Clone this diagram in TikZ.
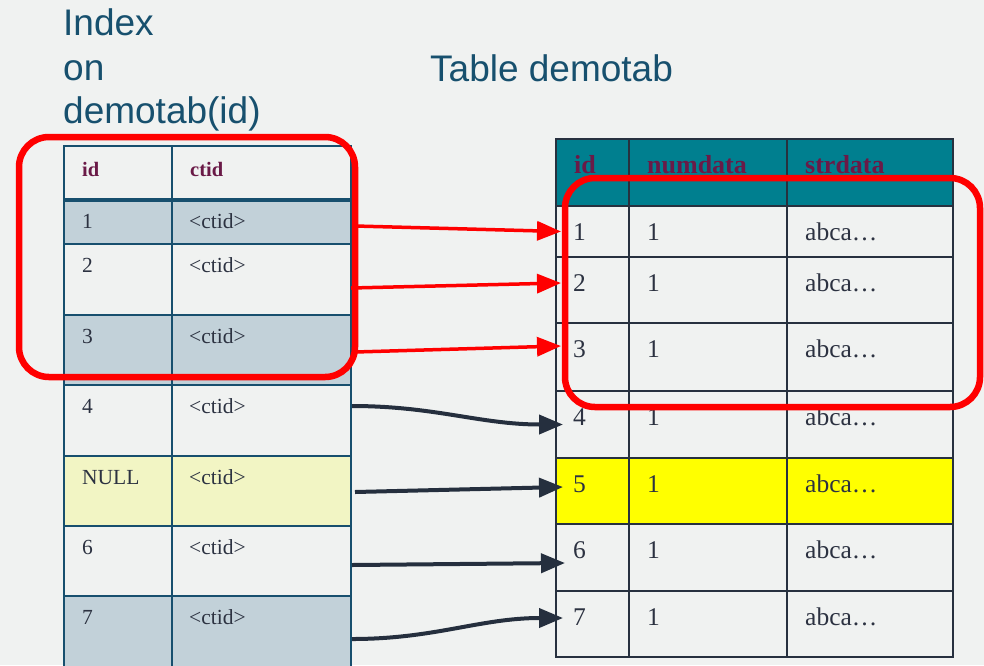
\documentclass[tikz,border=0pt]{standalone}
\usepackage{fontspec}
\setmainfont{Liberation Serif}
\newfontfamily\titlefont{Liberation Sans}
\usetikzlibrary{arrows.meta}

\definecolor{bgcol}{HTML}{F0F2F1}
\definecolor{titleblue}{HTML}{17506E}
\definecolor{leftline}{HTML}{174F6E}
\definecolor{rightline}{HTML}{27313F}
\definecolor{rowgray}{HTML}{C2D1D9}
\definecolor{rowpale}{HTML}{F2F5C4}
\definecolor{rowyellow}{HTML}{FFFF00}
\definecolor{headteal}{HTML}{007F8F}
\definecolor{hdrtext}{HTML}{6A1A47}
\definecolor{celltext}{HTML}{2C3241}
\definecolor{markred}{HTML}{FF0000}
\definecolor{linkdark}{HTML}{252F3E}

\begin{document}
\begin{tikzpicture}[x=1pt,y=-1pt,
  titletext/.style={font=\titlefont\fontsize{37}{44}\selectfont, text=titleblue, inner sep=0pt, anchor=base west},
  lrow/.style={draw=leftline, line width=2.5pt, inner sep=0pt, outer sep=0pt, minimum width=287pt, anchor=north west},
  rrow/.style={draw=rightline, line width=2.5pt, inner sep=0pt, outer sep=0pt, minimum width=397pt, anchor=north west},
  lhead/.style={font=\fontsize{20.5}{24}\selectfont\bfseries, text=hdrtext, inner sep=0pt, anchor=base west},
  lcell/.style={font=\fontsize{21.5}{24}\selectfont, text=celltext, inner sep=0pt, anchor=base west},
  rhead/.style={font=\fontsize{26}{30}\selectfont\bfseries, text=hdrtext, inner sep=0pt, anchor=base west},
  rcell/.style={font=\fontsize{25.5}{28}\selectfont, text=celltext, inner sep=0pt, anchor=base west},
  redframe/.style={draw=markred, line width=6.5pt, rounded corners=30pt, inner sep=0pt, outer sep=0pt, anchor=north west},
  redlink/.style={draw=markred, line width=3.5pt, -{Triangle[length=24pt,width=19pt]}},
  darklink/.style={draw=linkdark, line width=4pt, -{Triangle[length=24pt,width=19pt]}}
]
\useasboundingbox (0,0) rectangle (984,665);
\fill[bgcol] (0,0) rectangle (984,665);
\clip (0,0) rectangle (984,665);

% titles
\node[titletext] (t1) at (63,35) {Index};
\node[titletext] (t2) at (63,80) {on};
\node[titletext] (t3) at (63,123) {demotab(id)};
\node[titletext] (t4) at (430,81) {Table demotab};

% index table rows
\node[lrow, fill=bgcol,   minimum height=54pt] (lh)  at (64,146) {};
\node[lrow, fill=rowgray, minimum height=44pt] (lr1) at (64,200) {};
\node[lrow, fill=bgcol,   minimum height=71pt] (lr2) at (64,244) {};
\node[lrow, fill=rowgray, minimum height=70pt] (lr3) at (64,315) {};
\node[lrow, fill=bgcol,   minimum height=71pt] (lr4) at (64,385) {};
\node[lrow, fill=rowpale, minimum height=70pt] (lr5) at (64,456) {};
\node[lrow, fill=bgcol,   minimum height=70pt] (lr6) at (64,526) {};
\node[lrow, fill=rowgray, minimum height=74pt] (lr7) at (64,596) {};
\draw[leftline, line width=2.5pt] (172,146) -- (172,670);
\draw[leftline, line width=4.5pt] (lh.south west) -- (lh.south east);

% index table text
\node[lhead] (lhid) at (82,176) {id};
\node[lhead] (lhct) at (190,176) {ctid};
\foreach \r/\t/\v in {1/200/1, 2/244/2, 3/315/3, 4/385/4, 5/456/NULL, 6/526/6, 7/596/7} {
  \node[lcell] (lid\r) at (82,\t+28.5) {\v};
  \node[lcell] (lct\r) at (189,\t+28.5) {<ctid>};
}

% data table rows
\node[rrow, fill=headteal,  minimum height=67pt] (rh)  at (556,139) {};
\node[rrow, fill=bgcol,     minimum height=51pt] (rr1) at (556,206) {};
\node[rrow, fill=bgcol,     minimum height=66pt] (rr2) at (556,257) {};
\node[rrow, fill=bgcol,     minimum height=68pt] (rr3) at (556,323) {};
\node[rrow, fill=bgcol,     minimum height=67pt] (rr4) at (556,391) {};
\node[rrow, fill=rowyellow, minimum height=66pt] (rr5) at (556,458) {};
\node[rrow, fill=bgcol,     minimum height=67pt] (rr6) at (556,524) {};
\node[rrow, fill=bgcol,     minimum height=66pt] (rr7) at (556,591) {};
\draw[rightline, line width=2.5pt] (629,139) -- (629,657);
\draw[rightline, line width=2.5pt] (787,139) -- (787,657);

% data table text
\node[rhead] (rhid) at (574,173) {id};
\node[rhead] (rhnum) at (647,173) {numdata};
\node[rhead] (rhstr) at (805,173) {strdata};
\foreach \r/\t in {1/206, 2/257, 3/323, 4/391, 5/458, 6/524, 7/591} {
  \node[rcell] (rid\r) at (573,\t+34.5) {\r};
  \node[rcell] (rnum\r) at (647,\t+34.5) {1};
  \node[rcell] (rstr\r) at (805,\t+34.5) {abca…};
}

% highlight frames
\node[redframe, minimum width=336pt, minimum height=240pt] (idxmark) at (19,137) {};
\node[redframe, minimum width=415pt, minimum height=229pt] (tabmark) at (565,178) {};

% row pointers
\draw[redlink] ([xshift=4pt,yshift=-4pt]lr1.east) -- ([xshift=5pt]rr1.west);
\draw[redlink] ([yshift=-8.5pt]lr2.east) -- ([xshift=5pt,yshift=7pt]rr2.west);
\draw[redlink] ([xshift=4pt,yshift=-2pt]lr3.east) -- ([xshift=5pt,yshift=11pt]rr3.west);
\draw[darklink] ([xshift=1pt,yshift=14.5pt]lr4.east) to[out=0,in=180] ([xshift=7pt]rr4.west);
\draw[darklink] ([xshift=4pt,yshift=-1pt]lr5.east) -- ([xshift=7pt,yshift=4pt]rr5.west);
\draw[darklink] ([xshift=1pt,yshift=-4pt]lr6.east) -- ([xshift=9pt,yshift=-5.5pt]rr6.west);
\draw[darklink] ([xshift=1pt,yshift=-6pt]lr7.east) to[out=0,in=180] ([xshift=7pt,yshift=6pt]rr7.west);
\end{tikzpicture}
\end{document}
